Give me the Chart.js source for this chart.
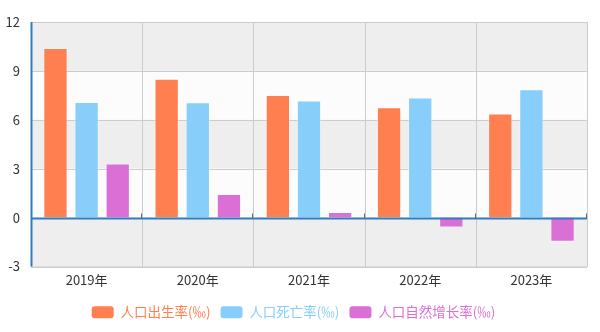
<!DOCTYPE html>
<html>
<head>
<meta charset="utf-8">
<script src="https://cdn.jsdelivr.net/npm/chart.js@4/dist/chart.umd.min.js"></script>
<style>
  html, body { margin: 0; padding: 0; background: #fff; }
  #wrap { width: 600px; height: 332px; }
</style>
</head>
<body>
<div id="wrap"><canvas id="line-chart"></canvas></div>
<script>
const years = ["2019年", "2020年", "2021年", "2022年", "2023年"];
const birthRate = [10.41, 8.52, 7.52, 6.77, 6.39];
const deathRate = [7.09, 7.07, 7.18, 7.37, 7.87];
const growthRate = [3.32, 1.45, 0.34, -0.6, -1.48];
const seriesNames = ["人口出生率(‰)", "人口死亡率(‰)", "人口自然增长率(‰)"];
const seriesColors = ["#FF7F50", "#87CEFA", "#DA70D6"];

const FONT = "'Noto Sans CJK SC', 'Noto Sans', sans-serif";

// alternating bands + blue zero line + little ticks at zero
const bands = {
  id: "bands",
  beforeDatasetsDraw(chart) {
    const { ctx, chartArea, scales } = chart;
    const y = scales.y;
    const ticks = y.ticks.map((t) => t.value).sort((a, b) => b - a);
    ctx.save();
    for (let i = 0; i < ticks.length - 1; i++) {
      const top = y.getPixelForValue(ticks[i]);
      const bot = y.getPixelForValue(ticks[i + 1]);
      ctx.fillStyle = i % 2 === 0 ? "#eeeeee" : "#fcfcfc";
      ctx.fillRect(chartArea.left, top, chartArea.right - chartArea.left, bot - top);
    }
    // grid lines over the bands
    ctx.strokeStyle = "#cccccc";
    ctx.lineWidth = 1;
    ticks.forEach((v) => {
      const py = Math.round(y.getPixelForValue(v)) + 0.5;
      ctx.beginPath();
      ctx.moveTo(chartArea.left, py);
      ctx.lineTo(chartArea.right, py);
      ctx.stroke();
    });
    const x = scales.x;
    for (let i = 0; i <= years.length; i++) {
      const px = Math.round(x.left + (x.width / years.length) * i) + 0.5;
      ctx.beginPath();
      ctx.moveTo(px, chartArea.top);
      ctx.lineTo(px, chartArea.bottom);
      ctx.stroke();
    }
    ctx.restore();
  },
  afterDatasetsDraw(chart) {
    const { ctx, chartArea, scales } = chart;
    const y0 = Math.round(scales.y.getPixelForValue(0)) + 0.5;
    const x = scales.x;
    ctx.save();
    ctx.strokeStyle = "#2f7cbf";
    ctx.lineWidth = 2;
    ctx.beginPath();
    ctx.moveTo(chartArea.left, y0);
    ctx.lineTo(chartArea.right, y0);
    ctx.stroke();
    ctx.beginPath();
    ctx.moveTo(chartArea.left + 0.5, chartArea.top);
    ctx.lineTo(chartArea.left + 0.5, chartArea.bottom);
    ctx.stroke();
    ctx.strokeStyle = "#666666";
    ctx.lineWidth = 1;
    for (let i = 1; i <= years.length; i++) {
      const px = Math.round(x.left + (x.width / years.length) * i) - 0.5;
      ctx.beginPath();
      ctx.moveTo(px, y0 - 5);
      ctx.lineTo(px, y0);
      ctx.stroke();
    }
    ctx.restore();
  },
};

const datasets = [birthRate, deathRate, growthRate].map((vals, i) => ({
  label: seriesNames[i],
  data: vals,
  backgroundColor: seriesColors[i],
  borderColor: "rgba(255,255,255,0.35)",
  borderWidth: 1,
  categoryPercentage: 0.84,
  barPercentage: 0.78,
}));

new Chart(document.getElementById("line-chart"), {
  type: "bar",
  data: { labels: years, datasets },
  plugins: [bands],
  options: {
    responsive: true,
    maintainAspectRatio: false,
    animation: false,
    layout: { padding: { top: 22, right: 13, left: 0, bottom: 3 } },
    plugins: {
      legend: {
        position: "bottom",
        labels: {
          font: { family: FONT, size: 13.5 },
          boxWidth: 22,
          boxHeight: 12,
          useBorderRadius: true,
          borderRadius: 3,
          padding: 10,
          generateLabels(chart) {
            return chart.data.datasets.map((ds, i) => ({
              text: ds.label,
              fillStyle: seriesColors[i],
              strokeStyle: seriesColors[i],
              lineWidth: 0,
              fontColor: seriesColors[i],
              datasetIndex: i,
              borderRadius: 3,
              hidden: false,
            }));
          },
        },
      },
      tooltip: { enabled: false },
    },
    scales: {
      x: {
        afterFit(scale) { scale.height = 29; },
        grid: { display: false, drawTicks: false },
        border: { display: true, color: "#cccccc" },
        ticks: { color: "#333", font: { family: FONT, size: 13 }, padding: 6 },
      },
      y: {
        min: -3,
        max: 12,
        afterFit(scale) { scale.width = 31; },
        grid: { display: false },
        border: { display: false },
        ticks: { stepSize: 3, color: "#333", font: { family: FONT, size: 13 }, padding: 3 },
      },
    },
  },
});
</script>
</body>
</html>
